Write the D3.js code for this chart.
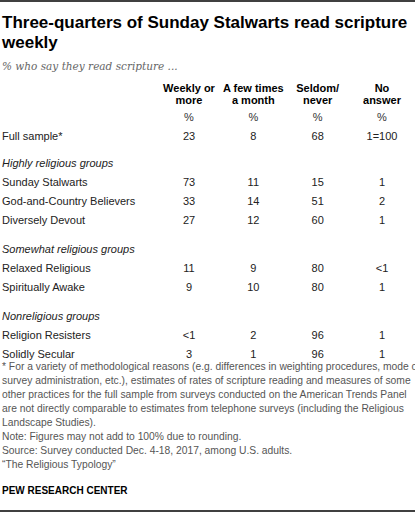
<!DOCTYPE html>
<html><head><meta charset="utf-8">
<script src="https://d3js.org/d3.v7.min.js"></script>
<style>body{margin:0;background:#fff}</style></head>
<body><svg id="c" width="415" height="513"></svg>
<script>
const columns = ["Weekly or|more", "A few times|a month", "Seldom/|never", "No|answer"];
const rowLabels = ["Full sample*", "Highly religious groups", "Sunday Stalwarts", "God-and-Country Believers", "Diversely Devout", "Somewhat religious groups", "Relaxed Religious", "Spiritually Awake", "Nonreligious groups", "Religion Resisters", "Solidly Secular"];
const rowIsGroup = [false, true, false, false, false, true, false, false, true, false, false];
const weekly = ["23", "", "73", "33", "27", "", "11", "9", "", "<1", "3"];
const fewTimes = ["8", "", "11", "14", "12", "", "9", "10", "", "2", "1"];
const seldom = ["68", "", "15", "51", "60", "", "80", "80", "", "96", "96"];
const noAnswer = ["1=100", "", "1", "2", "1", "", "<1", "1", "", "1", "1"];
const rowY = [140, 167, 186, 205, 224, 253, 272, 291, 320, 339, 358];
const footnote = [
"* For a variety of methodological reasons (e.g. differences in weighting procedures, mode of",
"survey administration, etc.), estimates of rates of scripture reading and measures of some",
"other practices for the full sample from surveys conducted on the American Trends Panel",
"are not directly comparable to estimates from telephone surveys (including the Religious",
"Landscape Studies).",
"Note: Figures may not add to 100% due to rounding.",
"Source: Survey conducted Dec. 4-18, 2017, among U.S. adults.",
"\u201CThe Religious Typology\u201D"];

const svg = d3.select("#c");
const F = "'Liberation Sans', Arial, sans-serif";
const x = d3.scalePoint().domain(d3.range(4)).range([189, 382]);
svg.append("line").attr("x1",0).attr("x2",415).attr("y1",1).attr("y2",1).attr("stroke","#000").attr("stroke-width",1.5);
svg.append("line").attr("x1",0).attr("x2",415).attr("y1",511).attr("y2",511).attr("stroke","#000").attr("stroke-width",1.5);
const t = svg.append("text").attr("font-family",F).attr("font-weight","bold").attr("font-size",17).attr("fill","#000");
t.append("tspan").attr("x",2).attr("y",28).text("Three-quarters  of Sunday Stalwarts read scripture");
t.append("tspan").attr("x",2).attr("y",48).text("weekly");
svg.append("text").attr("x",2).attr("y",70).attr("font-family","'DejaVu Serif', Georgia, serif").attr("font-style","italic").attr("font-size",10.5).attr("fill","#666").text("% who say they read scripture ...");

columns.forEach((c,i)=>{
  c.split("|").forEach((s,j)=>svg.append("text").attr("x",x(i)).attr("y",92+j*12).attr("text-anchor","middle")
    .attr("font-family",F).attr("font-weight","bold").attr("font-size",11).attr("fill","#000").text(s));
  svg.append("text").attr("x",x(i)).attr("y",121).attr("text-anchor","middle").attr("font-family",F).attr("font-size",11).attr("fill","#333").text("%");
});
const cols = [weekly, fewTimes, seldom, noAnswer];
rowLabels.forEach((r,k)=>{
  svg.append("text").attr("x",2).attr("y",rowY[k]).attr("font-family",F).attr("font-size",11)
    .attr("font-style",rowIsGroup[k]?"italic":"normal").attr("fill","#222").text(r);
  cols.forEach((col,i)=>{ if(col[k]) svg.append("text").attr("x",x(i)).attr("y",rowY[k]).attr("text-anchor","middle")
    .attr("font-family",F).attr("font-size",11).attr("fill","#222").text(col[k]); });
});
footnote.forEach((s,k)=>svg.append("text").attr("x",2).attr("y",370+k*14).attr("font-family",F).attr("font-size",10.3).attr("fill","#555").text(s));
svg.append("text").attr("x",2).attr("y",494).attr("font-family",F).attr("font-weight","bold").attr("font-size",10).attr("fill","#000").text("PEW RESEARCH CENTER");
</script></body></html>
